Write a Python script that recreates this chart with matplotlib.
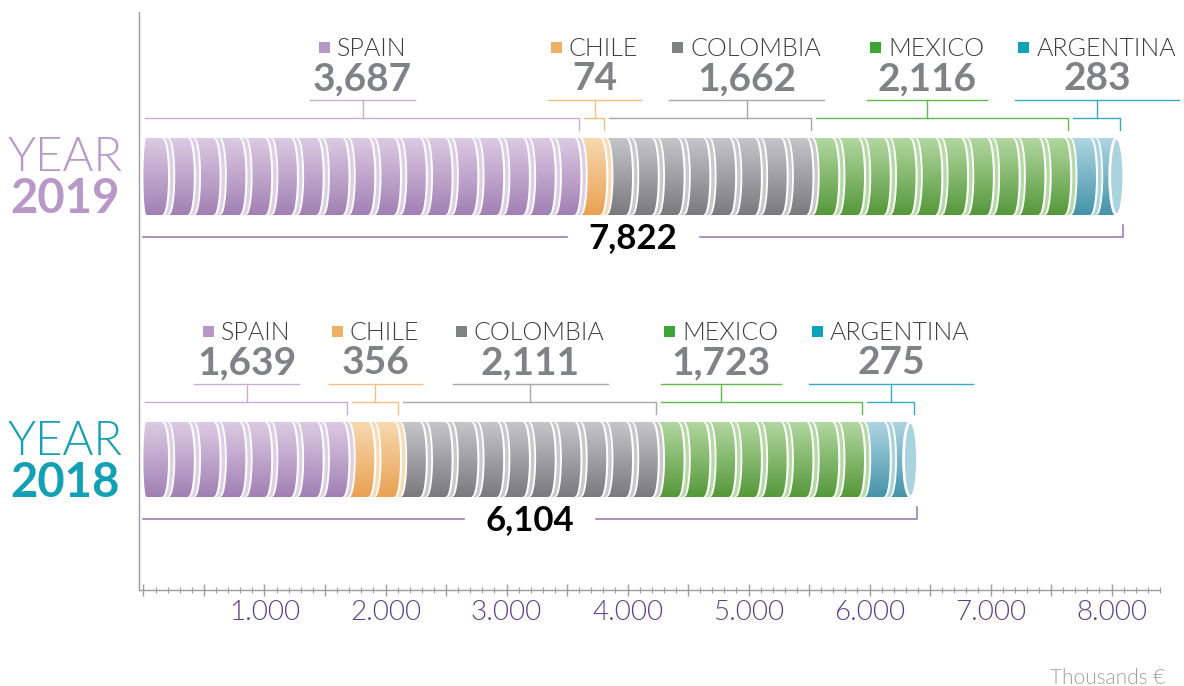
import numpy as np
import matplotlib
matplotlib.use("Agg")
import matplotlib.pyplot as plt
from matplotlib.path import Path
from matplotlib.patches import PathPatch, Ellipse, Rectangle
from matplotlib.colors import LinearSegmentedColormap
from matplotlib.ticker import MultipleLocator, FuncFormatter

plt.rcParams['font.family'] = ['Lato', 'DejaVu Sans']

# data (thousands of euros)
years = ["2019", "2018"]
countries = ["SPAIN", "CHILE", "COLOMBIA", "MEXICO", "ARGENTINA"]
values_2019 = [3687, 74, 1662, 2116, 283]
values_2018 = [1639, 356, 2111, 1723, 275]
totals = [7822, 6104]

# colours
square_colors = ["#b797c8", "#edb064", "#808184", "#3da535", "#0ca2b9"]
bracket_colors = ["#c9acd8", "#f2bf80", "#a7a8ab", "#62b94c", "#36abc3"]
body_light = ["#dccbe4", "#f8d9b0", "#c6c5c9", "#b2d7a0", "#aed5e1"]
body_dark = ["#a27fb3", "#e9a152", "#7a797e", "#55983a", "#4593aa"]
face_colors = ["#ddd0e6", "#f8dcb6", "#c9c9cb", "#b6daa6", "#a9d3df"]
year_colors = ["#b898c8", "#12a0b5"]

COIN_VALUE = 220      # thousands per coin
COIN_W = 213          # drawn coin pitch in x units
PX = 1000 / 121.0     # x units per pixel
W, H = 1184, 686
LIGHT = 300

fig = plt.figure(figsize=(W / 100, H / 100), dpi=100)
ax = fig.add_axes([139 / W, 96 / H, 1021 / W, 578 / H])
ax.set_xlim(-37, 8400)
ax.set_ylim(590, 12)   # y is in pixel rows from the top
ax.set_autoscale_on(False)
renderer = fig.canvas.get_renderer()


def band(xa, xb, y0, y1, e, left_round=None):
    t = np.linspace(-1, 1, 41)
    f = np.sqrt(1 - t ** 2)
    y = (y0 + y1) / 2 + (y1 - y0) / 2 * t
    left = xa + e * f if left_round is None else xa + left_round * (1 - f)
    xs = np.r_[xb + e * f, left[::-1]]
    ys = np.r_[y, y[::-1]]
    return np.column_stack([xs, ys])


def compound(polys):
    verts, codes = [], []
    for p in polys:
        verts.extend(p)
        verts.append(p[0])
        codes.extend([Path.MOVETO] + [Path.LINETO] * (len(p) - 1) + [Path.CLOSEPOLY])
    return Path(verts, codes)


def draw_year(values, total, year, ycol, top, bot):
    counts = [max(1, int(np.ceil(v / COIN_VALUE))) for v in values]
    n_all = sum(counts)
    e = 6 * PX
    x, k = 0.0, 0
    segs = []
    for i, n in enumerate(counts):
        s0 = x
        bodies, faces = [], []
        for j in range(n):
            xb = x + 0.72 * COIN_W
            bodies.append(band(x, xb, top, bot, e, left_round=0.5 * e if k == 0 else None))
            if k < n_all - 1:
                faces.append(band(x + 0.80 * COIN_W, x + 0.93 * COIN_W, top, bot, e))
            else:
                ax.add_patch(Ellipse((xb + 1 * PX, (top + bot) / 2), 14 * PX, bot - top,
                                     fc=face_colors[i], ec='white', lw=2, zorder=4))
            x += COIN_W
            k += 1
        clip = PathPatch(compound(bodies), transform=ax.transData, fc='none', ec='none')
        ax.add_patch(clip)
        cmap = LinearSegmentedColormap.from_list('c%d' % i, [body_light[i], body_dark[i]])
        im = ax.imshow(np.linspace(0, 1, 256).reshape(-1, 1), cmap=cmap, aspect='auto',
                       extent=(s0, x + e, bot, top), origin='upper', zorder=3,
                       interpolation='bilinear')
        im.set_clip_path(clip)
        if faces:
            ax.add_patch(PathPatch(compound(faces), fc=face_colors[i], ec='none', zorder=3))
        segs.append((s0, x))

    # labels above each segment
    groups = []
    for i, v in enumerate(values):
        name_t = ax.text(0, top - 82, countries[i], fontsize=18, fontweight=LIGHT,
                         color='#3d3d3d', ha='left', va='baseline')
        num_t = ax.text(0, top - 48, f"{v:,}", fontsize=28, fontweight='bold',
                        color='#808285', ha='center', va='baseline')
        wn = name_t.get_window_extent(renderer).width * PX
        wv = num_t.get_window_extent(renderer).width * PX
        gw = 18 * PX + wn
        hw = max(gw, wv) / 2 + 3 * PX
        groups.append([(segs[i][0] + segs[i][1]) / 2, hw, gw, name_t, num_t])
    # resolve overlaps: move the label that sits on the wider segment
    for g in range(1, len(groups)):
        a, b = groups[g - 1], groups[g]
        short = a[0] + a[1] + 28 * PX + b[1] - b[0]
        if short > 0:
            wa = segs[g - 1][1] - segs[g - 1][0]
            wb = segs[g][1] - segs[g][0]
            if wb >= wa:
                b[0] += short
            else:
                a[0] -= short

    for i, (c, hw, gw, name_t, num_t) in enumerate(groups):
        left = c - gw / 2
        ax.add_patch(Rectangle((left, top - 96), 11 * PX, 11, fc=square_colors[i],
                               ec='none', clip_on=False))
        name_t.set_x(left + 18 * PX)
        num_t.set_x(c)
        s0, s1 = segs[i]
        xa, xz = s0 + 2 * PX, s1 - 3 * PX
        ax.plot([xa, xz, xz], [top - 20, top - 20, top - 8], color=bracket_colors[i],
                lw=1, clip_on=False)
        ax.plot([c - hw, c + hw], [top - 38, top - 38], color=bracket_colors[i], lw=1, clip_on=False)
        ax.plot([c, c], [top - 38, top - 20], color=bracket_colors[i], lw=1, clip_on=False)

    # total bracket
    end = n_all * COIN_W
    ly = bot + 22
    tt = ax.text(end / 2, ly + 11, f"{total:,}", fontsize=25, fontweight='bold',
                 color='black', ha='center', va='baseline')
    gap = tt.get_window_extent(renderer).width * PX / 2 + 22 * PX
    ax.plot([0, end / 2 - gap], [ly, ly], color='#9c7fb6', lw=1.2)
    ax.plot([end / 2 + gap, end, end], [ly, ly, ly - 12], color='#9c7fb6', lw=1.2)

    # year label
    yx = (65 - 143.5) * PX
    ax.text(yx, top + 33, "YEAR", fontsize=34, fontweight=LIGHT, color=ycol,
            ha='center', va='baseline')
    ax.text(yx, top + 75, year, fontsize=34, fontweight='bold', color=ycol,
            ha='center', va='baseline')


draw_year(values_2019, totals[0], years[0], year_colors[0], 138, 215)
draw_year(values_2018, totals[1], years[1], year_colors[1], 422, 497)

# axes styling
for s in ['top', 'right']:
    ax.spines[s].set_visible(False)
for s in ['left', 'bottom']:
    ax.spines[s].set_color('#9d9d9d')
    ax.spines[s].set_linewidth(1)
ax.set_yticks([])
ax.xaxis.set_major_locator(MultipleLocator(500))
ax.xaxis.set_minor_locator(MultipleLocator(100))
ax.xaxis.set_major_formatter(FuncFormatter(
    lambda v, p: f"{int(round(v)) // 1000}.000" if v > 0 and int(round(v)) % 1000 == 0 else ""))
ax.tick_params(axis='x', which='major', direction='inout', length=9, width=1,
               color='#9d9d9d', labelsize=20, labelcolor='#5e3f88', pad=3)
ax.tick_params(axis='x', which='minor', direction='inout', length=5, width=0.8, color='#9d9d9d')
ax.set_xlim(-37, 8400)
ax.set_ylim(590, 12)
for lab in ax.get_xticklabels():
    lab.set_fontweight(LIGHT)

fig.text(1165 / W, 2 / H, "Thousands €", fontsize=15, fontweight=LIGHT, color='#9d9fa2',
         ha='right', va='baseline')

fig.savefig("out.png", dpi=100)
